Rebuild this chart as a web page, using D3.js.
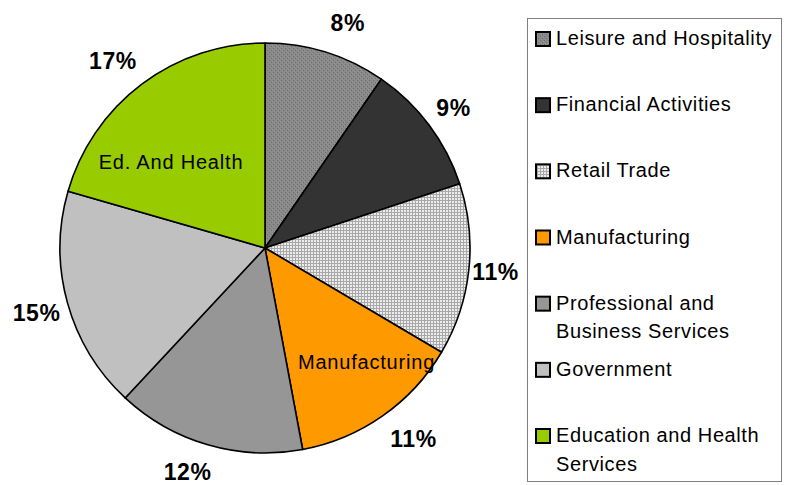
<!DOCTYPE html>
<html>
<head>
<meta charset="utf-8">
<script src="https://cdn.jsdelivr.net/npm/d3@7"></script>
<style>
  html, body { margin: 0; padding: 0; background: #fff; }
  svg { display: block; font-family: "Liberation Sans", Arial, sans-serif; }
</style>
</head>
<body>
<svg id="chart" width="786" height="485"></svg>
<script>
// ---- data ----
const categories = [
  "Leisure and Hospitality",
  "Financial Activities",
  "Retail Trade",
  "Manufacturing",
  "Professional and Business Services",
  "Government",
  "Education and Health Services"
];
const values = [8.0, 8.6, 11.3, 11.3, 12.4, 14.6, 17.1];
const percentLabels = ["8%", "9%", "11%", "11%", "12%", "15%", "17%"];
const legendLines = [
  ["Leisure and Hospitality"],
  ["Financial Activities"],
  ["Retail Trade"],
  ["Manufacturing"],
  ["Professional and", "Business Services"],
  ["Government"],
  ["Education and Health", "Services"]
];
const innerLabelCats = ["Education and Health Services", "Manufacturing"];
const innerLabelTexts = ["Ed. And Health", "Manufacturing"];
const fills = ["url(#patLeisure)", "#333333", "url(#patRetail)", "#FF9900", "#969696", "#C0C0C0", "#99CC00"];

// ---- layout ----
const svg = d3.select("#chart");
const cx = 265, cy = 248, R = 205;

const defs = svg.append("defs");
const p1 = defs.append("pattern").attr("id", "patLeisure").attr("patternUnits", "userSpaceOnUse")
  .attr("width", 4).attr("height", 4);
p1.append("rect").attr("width", 4).attr("height", 4).attr("fill", "#8a8a8a");
p1.append("rect").attr("x", 0).attr("y", 0).attr("width", 1).attr("height", 1).attr("fill", "#6c6c6c");
p1.append("rect").attr("x", 2).attr("y", 2).attr("width", 1).attr("height", 1).attr("fill", "#6c6c6c");
p1.append("rect").attr("x", 1).attr("y", 3).attr("width", 1).attr("height", 1).attr("fill", "#959595");
p1.append("rect").attr("x", 3).attr("y", 1).attr("width", 1).attr("height", 1).attr("fill", "#959595");

const p2 = defs.append("pattern").attr("id", "patRetail").attr("patternUnits", "userSpaceOnUse")
  .attr("width", 3).attr("height", 3);
p2.append("rect").attr("width", 3).attr("height", 3).attr("fill", "#ececec");
p2.append("rect").attr("x", 0).attr("y", 0).attr("width", 3).attr("height", 1).attr("fill", "#a8a8a8");
p2.append("rect").attr("x", 0).attr("y", 0).attr("width", 1).attr("height", 3).attr("fill", "#a8a8a8");

const pie = d3.pie().sort(null).value(d => d)(values);
const arc = d3.arc().innerRadius(0).outerRadius(R);

const g = svg.append("g").attr("transform", `translate(${cx},${cy})`);
g.selectAll("path.slice").data(pie).join("path")
  .attr("class", "slice")
  .attr("d", arc)
  .attr("fill", (d, i) => fills[i])
  .attr("stroke", "#000")
  .attr("stroke-width", 1.6)
  .attr("stroke-linejoin", "round");

// percent labels outside
const labelR = 238;
const tweak = [[12, 2], [-2, 2], [-6, -2], [12, -4], [-11, -5], [1, 1], [-9, 3]];
g.selectAll("text.pct").data(pie).join("text")
  .attr("class", "pct")
  .attr("x", (d, i) => Math.sin((d.startAngle + d.endAngle) / 2) * labelR + tweak[i][0])
  .attr("y", (d, i) => -Math.cos((d.startAngle + d.endAngle) / 2) * labelR + tweak[i][1])
  .attr("dy", "0.36em")
  .attr("text-anchor", "middle")
  .attr("font-size", 23)
  .attr("font-weight", "bold")
  .attr("letter-spacing", 0.6)
  .text((d, i) => percentLabels[i]);

// inner category labels
const innerOffsets = [[-17, 23], [28, 16]];
innerLabelCats.forEach((c, k) => {
  const idx = categories.indexOf(c);
  const d = pie[idx];
  const [x, y] = d3.arc().innerRadius(0).outerRadius(R * 1.25).centroid(d);
  g.append("text")
    .attr("x", x + innerOffsets[k][0])
    .attr("y", y + innerOffsets[k][1])
    .attr("text-anchor", "middle")
    .attr("font-size", 20)
    .attr("letter-spacing", 0.8)
    .text(innerLabelTexts[k]);
});

// legend
const lg = svg.append("g");
lg.append("rect").attr("x", 527.5).attr("y", 18.5).attr("width", 254).attr("height", 463)
  .attr("fill", "#fff").attr("stroke", "#808080").attr("stroke-width", 1);
const rowY = d3.scaleLinear().domain([0, 6]).range([45, 442]);
categories.forEach((c, i) => {
  const by = rowY(i);
  lg.append("rect").attr("x", 536).attr("y", by - 13).attr("width", 14).attr("height", 14)
    .attr("fill", fills[i]).attr("stroke", "#000").attr("stroke-width", 2);
  const t = lg.append("text").attr("x", 556).attr("y", by)
    .attr("font-size", 20).attr("letter-spacing", 0.6);
  legendLines[i].forEach((ln, j) => {
    t.append("tspan").attr("x", 556).attr("y", by + j * 28.5).text(ln);
  });
});
</script>
</body>
</html>
